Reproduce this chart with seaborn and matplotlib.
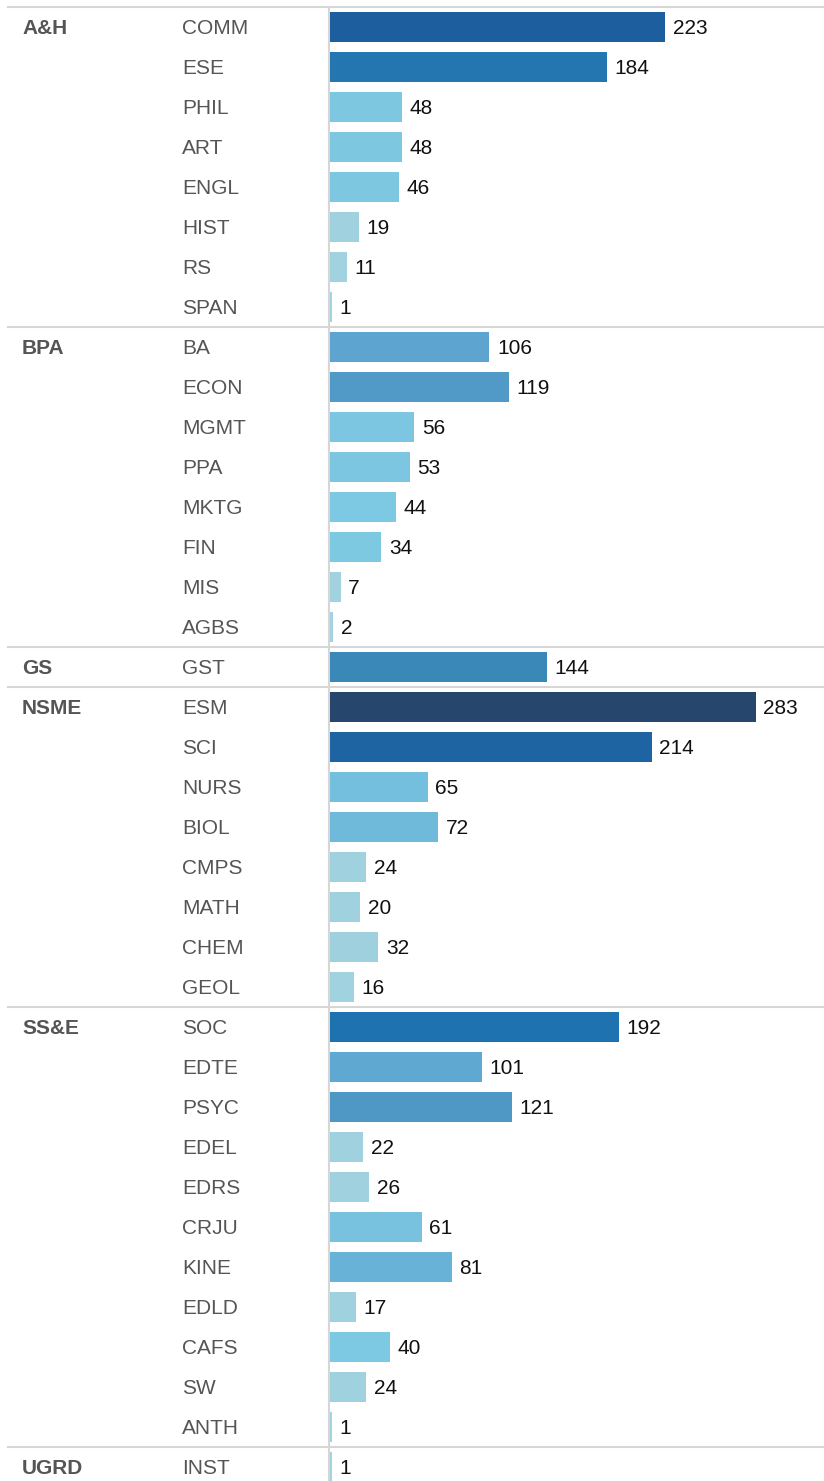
import numpy as np
import pandas as pd
import matplotlib
matplotlib.use("Agg")
import matplotlib.pyplot as plt
import matplotlib.transforms as mtransforms
from matplotlib.colors import to_rgb, to_hex
import seaborn as sns

# ---------------- DATA ----------------

colleges = ["A&H", "BPA", "GS", "NSME", "SS&E", "UGRD"]

ah_depts = ["COMM", "ESE", "PHIL", "ART", "ENGL", "HIST", "RS", "SPAN"]
ah_vals = [223, 184, 48, 48, 46, 19, 11, 1]

bpa_depts = ["BA", "ECON", "MGMT", "PPA", "MKTG", "FIN", "MIS", "AGBS"]
bpa_vals = [106, 119, 56, 53, 44, 34, 7, 2]

gs_depts = ["GST"]
gs_vals = [144]

nsme_depts = ["ESM", "SCI", "NURS", "BIOL", "CMPS", "MATH", "CHEM", "GEOL"]
nsme_vals = [283, 214, 65, 72, 24, 20, 32, 16]

sse_depts = ["SOC", "EDTE", "PSYC", "EDEL", "EDRS", "CRJU", "KINE", "EDLD", "CAFS", "SW", "ANTH"]
sse_vals = [192, 101, 121, 22, 26, 61, 81, 17, 40, 24, 1]

ugrd_depts = ["INST"]
ugrd_vals = [1]

dept_lists = [ah_depts, bpa_depts, gs_depts, nsme_depts, sse_depts, ugrd_depts]
val_lists = [ah_vals, bpa_vals, gs_vals, nsme_vals, sse_vals, ugrd_vals]

rows = []
for college, depts, vals in zip(colleges, dept_lists, val_lists):
    for d, v in zip(depts, vals):
        rows.append({"college": college, "dept": d, "value": v})
df = pd.DataFrame(rows)

# ---------------- COLOR SCALE ----------------

anchor_vals = [0, 32, 34, 56, 65, 81, 106, 121, 144, 192, 223, 283]
anchor_cols = ["#A3D3E0", "#9ED0DE", "#7EC9E2", "#7CC6E1", "#74BEDE", "#68B2D7",
               "#5DA5D0", "#4F98C6", "#3A88B8", "#1F72B0", "#1D5E9E", "#26466E"]
anchor_rgb = np.array([to_rgb(c) for c in anchor_cols])


def color_for(v):
    return to_hex([np.interp(v, anchor_vals, anchor_rgb[:, k]) for k in range(3)])


palette = {d: color_for(v) for d, v in zip(df["dept"], df["value"])}

# ---------------- FIGURE ----------------

W, H = 824, 1481
fig = plt.figure(figsize=(W / 100, H / 100), dpi=100)
fig.patch.set_facecolor("white")

row_h = 40
n = len(df)
top_px = 7
left_px = 329
ax = fig.add_axes([left_px / W, (H - top_px - n * row_h) / H,
                   (W - left_px) / W, n * row_h / H])

sns.barplot(data=df, x="value", y="dept", hue="dept", palette=palette,
            order=list(df["dept"]), orient="h", width=0.75, legend=False,
            saturation=1, ax=ax)

ax.set_xlim(-0.7, 328.5)
ax.set_ylim(n - 0.5, -0.5)
ax.set_xlabel("")
ax.set_ylabel("")
ax.set_xticks([])
ax.set_yticks([])
for s in ax.spines.values():
    s.set_visible(False)

font = "Liberation Sans"
fs = 15

for i, v in enumerate(df["value"]):
    ax.annotate(str(v), (v, i), xytext=(5.5, 0), textcoords="offset points",
                va="center_baseline", ha="left", fontsize=fs, color="#111111",
                family=font)

tr = mtransforms.blended_transform_factory(fig.transFigure, ax.transData)

for i, d in enumerate(df["dept"]):
    ax.text(182 / W, i, d, transform=tr, va="center_baseline", ha="left",
            fontsize=fs, color="#555555", family=font, clip_on=False)

line_col = "#d6d6d6"
start = 0
for college, depts in zip(colleges, dept_lists):
    ax.text(22 / W, start, college, transform=tr, va="center_baseline", ha="left",
            fontsize=fs, fontweight="bold", color="#555555", family=font,
            clip_on=False)
    ax.plot([8 / W, 1], [start - 0.5, start - 0.5], transform=tr,
            color=line_col, lw=1.5, clip_on=False, zorder=0)
    start += len(depts)

ax.plot([left_px / W, left_px / W], [-0.5, n - 0.5], transform=tr,
        color=line_col, lw=1.5, clip_on=False, zorder=0)

fig.savefig("out.png", dpi=100, facecolor="white")
